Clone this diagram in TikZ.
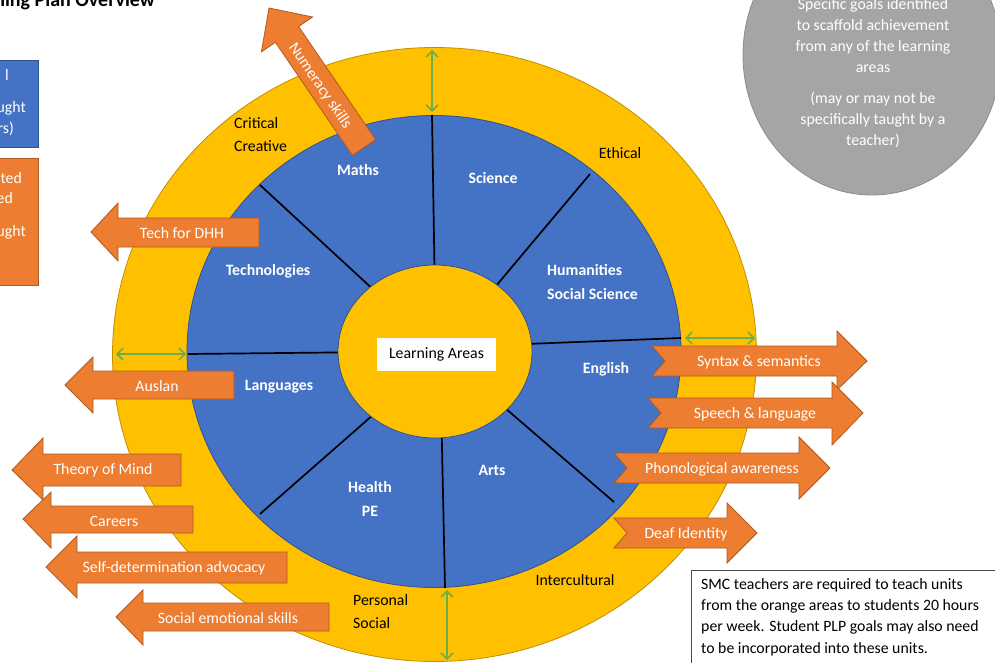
\documentclass[tikz,border=0pt]{standalone}
\usepackage{fontspec}
\setmainfont{Carlito}
\usetikzlibrary{arrows.meta}
\definecolor{ringyellow}{HTML}{FFC000}
\definecolor{ringedge}{HTML}{BF9000}
\definecolor{areablue}{HTML}{4472C4}
\definecolor{blueedge}{HTML}{2F528F}
\definecolor{skillorange}{HTML}{ED7D31}
\definecolor{orangeedge}{HTML}{AE5A21}
\definecolor{gapgreen}{HTML}{70AD47}
\definecolor{goalgrey}{HTML}{A5A5A5}
\definecolor{greyedge}{HTML}{8C8C8C}
\tikzset{
  txt/.style={inner sep=0pt, font=\fontsize{15.8}{23}\selectfont},
  arealbl/.style={txt, text=white, font=\fontsize{15.8}{24}\selectfont\bfseries},
  ringlbl/.style={txt, text=black},
  skilltxt/.style={txt, text=white},
  skillarrow/.style={fill=skillorange, draw=orangeedge, line width=0.8pt, line join=miter},
  divider/.style={draw=black, line width=1.7pt},
  gaparrow/.style={draw=gapgreen, line width=1.6pt, {Straight Barb[length=6pt,width=12pt]}-{Straight Barb[length=6pt,width=12pt]}}
}
\begin{document}
\begin{tikzpicture}[x=1pt,y=-1pt]
\useasboundingbox (0,0) rectangle (995,663);
\clip (0,0) rectangle (995,663);
\fill[white] (0,0) rectangle (995,663);

% title (cut off at the top)
\node[anchor=base east, inner sep=0pt, font=\fontsize{20}{22}\selectfont\bfseries] (title) at (155,7) {ning Plan Overview};

% left legend boxes (cut off)
\draw[fill=areablue, draw=blueedge, line width=0.8pt] (-20,60) rectangle (38,147);
\node[anchor=base east, skilltxt] (bl1) at (9,81) {l};
\node[anchor=base east, skilltxt] (bl2) at (26,113) {ught};
\node[anchor=base east, skilltxt] (bl3) at (14,134) {rs)};
\draw[fill=skillorange, draw=orangeedge, line width=0.8pt] (-20,158) rectangle (38,285);
\node[anchor=base east, skilltxt] (ol1) at (22,183) {ted};
\node[anchor=base east, skilltxt] (ol2) at (13,204) {ed};
\node[anchor=base east, skilltxt] (ol3) at (26,236) {ught};

% grey goals ellipse
\draw[fill=goalgrey, draw=greyedge, line width=0.8pt] (872,55) ellipse [x radius=129, y radius=140];
\node[skilltxt, align=center, font=\fontsize{15.8}{21}\selectfont] (goals1) at (873,36)
  {Specific goals identified\\to scaffold achievement\\from any of the learning\\areas};
\node[skilltxt, align=center, font=\fontsize{15.8}{21}\selectfont] (goals2) at (873,120)
  {(may or may not be\\specifically taught by a\\teacher)};

% rings
\draw[fill=ringyellow, draw=ringedge, line width=0.8pt] (434.5,354.5) ellipse [x radius=322, y radius=307];
\draw[fill=areablue, draw=blueedge, line width=0.8pt] (434,351.5) ellipse [x radius=247, y radius=236];

% dividers
\draw[divider] (435,300) -- (432,115);
\draw[divider] (480,305) -- (590,174);
\draw[divider] (500,345) -- (681,338);
\draw[divider] (490,395) -- (614,502);
\draw[divider] (441,400) -- (445,588);
\draw[divider] (390,400) -- (260,514);
\draw[divider] (380,352) -- (188,354);
\draw[divider] (390,305) -- (260,185);

\draw[fill=ringyellow, draw=blueedge, line width=0.8pt] (435,351.5) ellipse [x radius=97, y radius=86.5];
\node[fill=white, minimum width=119pt, minimum height=33pt, inner sep=0pt, font=\fontsize{15.8}{18}\selectfont] (hub) at (436.5,354.5) {Learning Areas};

% learning area labels
\node[arealbl] (maths) at (358,170) {Maths};
\node[arealbl] (science) at (493,178) {Science};
\node[arealbl, anchor=west, align=left] (hass) at (547,282) {Humanities\\Social Science};
\node[arealbl] (english) at (606,369) {English};
\node[arealbl] (arts) at (492,470) {Arts};
\node[arealbl, align=center] (health) at (370,499) {Health\\PE};
\node[arealbl] (languages) at (279,387) {Languages};
\node[arealbl] (tech) at (268,271) {Technologies};

% general capability labels
\node[ringlbl, anchor=west, align=left] (critical) at (234,135) {Critical\\Creative};
\node[ringlbl] (ethical) at (620,153) {Ethical};
\node[ringlbl] (intercultural) at (575,580) {Intercultural};
\node[ringlbl, anchor=west, align=left] (personal) at (353,612) {Personal\\Social};

% green width arrows
\coordinate (gt1) at (432,50);  \coordinate (gt2) at (432,112);
\coordinate (gr1) at (685,338); \coordinate (gr2) at (755,338);
\coordinate (gl1) at (116,354); \coordinate (gl2) at (186,354);
\coordinate (gb1) at (447,590); \coordinate (gb2) at (447,660);
\draw[gaparrow] (gt1) -- (gt2);
\draw[gaparrow] (gr1) -- (gr2);
\draw[gaparrow] (gl1) -- (gl2);
\draw[gaparrow] (gb1) -- (gb2);

% numeracy arrow (rotated)
\draw[skillarrow] (375.6,139.6) -- (298.6,26.5) -- (312.6,17.0) -- (269,8) -- (261.4,51.8) -- (275.4,42.3) -- (352.4,155.4) -- cycle;
\node[skilltxt, rotate=-55.5] (numeracy) at (320,86) {Numeracy skills};

% left arrows
\draw[skillarrow] (91,232) -- (118,203) -- (118,218) -- (259,218) -- (259,247) -- (118,247) -- (118,261) -- cycle;
\node[skilltxt] (techdhh) at (182,233) {Tech for DHH};
\draw[skillarrow] (65,385) -- (93,357) -- (93,371) -- (234,371) -- (234,399) -- (93,399) -- (93,413) -- cycle;
\node[skilltxt] (auslan) at (157,386) {Auslan};
\draw[skillarrow] (12,470) -- (43,438) -- (43,454) -- (181,454) -- (181,486) -- (43,486) -- (43,500) -- cycle;
\node[skilltxt] (tom) at (103,470) {Theory of Mind};
\draw[skillarrow] (23,519) -- (51,492) -- (51,506) -- (193,506) -- (193,533) -- (51,533) -- (51,548) -- cycle;
\node[skilltxt] (careers) at (114,521) {Careers};
\draw[skillarrow] (46,567) -- (77,536) -- (77,552) -- (287,552) -- (287,583) -- (77,583) -- (77,598) -- cycle;
\node[skilltxt] (selfdet) at (174,568) {Self-determination advocacy};
\draw[skillarrow] (116,617) -- (143,590) -- (143,603) -- (329,603) -- (329,631) -- (143,631) -- (143,645) -- cycle;
\node[skilltxt] (socemo) at (228,618) {Social emotional skills};

% right notched arrows
\draw[skillarrow] (652,346) -- (837,346) -- (837,331) -- (867,361) -- (837,390) -- (837,376) -- (652,376) -- (665,361) -- cycle;
\node[skilltxt] (syntax) at (759,362) {Syntax \& semantics};
\draw[skillarrow] (648,398) -- (832,398) -- (832,382) -- (863,413) -- (832,445) -- (832,428) -- (648,428) -- (661,413) -- cycle;
\node[skilltxt] (speech) at (755,414) {Speech \& language};
\draw[skillarrow] (614,453) -- (799,453) -- (799,437) -- (830,468) -- (799,499) -- (799,483) -- (614,483) -- (627,468) -- cycle;
\node[skilltxt] (phono) at (722,469) {Phonological awareness};
\draw[skillarrow] (614,518) -- (727,518) -- (727,503) -- (757,533) -- (727,563) -- (727,548) -- (614,548) -- (627,533) -- cycle;
\node[skilltxt] (deaf) at (686,534) {Deaf Identity};

% note box
\draw[fill=white, draw=black!70, line width=0.8pt] (691,570) rectangle (1005,675);
\node[txt, anchor=west, align=left, font=\fontsize{15.8}{21.3}\selectfont] (note) at (701,617)
  {SMC teachers are required to teach units\\from the orange areas to students 20 hours\\per week. Student PLP goals may also need\\to be incorporated into these units.};
\end{tikzpicture}
\end{document}
